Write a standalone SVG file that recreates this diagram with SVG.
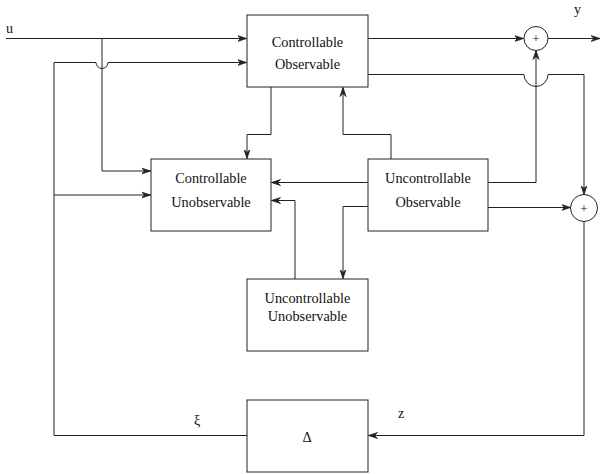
<svg xmlns="http://www.w3.org/2000/svg" width="605" height="474" viewBox="0 0 605 474">
<defs>
<marker id="ar" markerWidth="10" markerHeight="8" refX="9" refY="4" orient="auto" markerUnits="userSpaceOnUse">
<path d="M0,1 L9,4 L0,7 L3,4 z" fill="#222" stroke="#222" stroke-width="0.8"/>
</marker>
</defs>
<style>
.box{fill:#fff;stroke:#222;stroke-width:1}
.ln{fill:none;stroke:#222;stroke-width:1}
.t{font-family:"Liberation Serif","Times New Roman",serif;font-size:14.3px;fill:#111;text-anchor:middle}
.lb{font-family:"Liberation Serif","Times New Roman",serif;font-size:14px;fill:#111}
.pl{font-family:"Liberation Serif","Times New Roman",serif;font-size:13px;fill:#111;text-anchor:middle}
</style>
<rect width="605" height="474" fill="#fff"/>
<g id="connectors">
<path class="ln" d="M6,38.5 H246.5" marker-end="url(#ar)"/>
<path class="ln" d="M102,38.5 V171 H150.5" marker-end="url(#ar)"/>
<path class="ln" d="M247,435.5 H54 V62.5 H96 A6,6 0 0 0 108,62.5 H246.5" marker-end="url(#ar)"/>
<path class="ln" d="M54,195 H150.5" marker-end="url(#ar)"/>
<path class="ln" d="M271,87 V134.5 H247 V158.5" marker-end="url(#ar)"/>
<path class="ln" d="M391,159 V134.5 H343 V87.5" marker-end="url(#ar)"/>
<path class="ln" d="M368,182.5 H271.5" marker-end="url(#ar)"/>
<path class="ln" d="M368,206.5 H343 V278.5" marker-end="url(#ar)"/>
<path class="ln" d="M295,279 V200.5 H271.5" marker-end="url(#ar)"/>
<path class="ln" d="M488,182.5 H536 V50.5" marker-end="url(#ar)"/>
<path class="ln" d="M368,38.5 H523.5" marker-end="url(#ar)"/>
<path class="ln" d="M548,38.5 H600" marker-end="url(#ar)"/>
<path class="ln" d="M368,74.5 H524 A12,12 0 0 0 548,74.5 H584 V194.5" marker-end="url(#ar)"/>
<path class="ln" d="M488,207.5 H570.5" marker-end="url(#ar)"/>
<path class="ln" d="M584,221.5 V435.5 H368.5" marker-end="url(#ar)"/>
</g>
<g id="co">
<rect class="box" x="247" y="15" width="121" height="72"/>
<text class="t" x="307.5" y="46.5">Controllable</text>
<text class="t" x="307.5" y="69">Observable</text>
</g>
<g id="cu">
<rect class="box" x="151" y="159" width="120" height="72"/>
<text class="t" x="211" y="183.3">Controllable</text>
<text class="t" x="211" y="207.3">Unobservable</text>
</g>
<g id="uo">
<rect class="box" x="368" y="159" width="120" height="72"/>
<text class="t" x="428" y="183.3">Uncontrollable</text>
<text class="t" x="428" y="207.3">Observable</text>
</g>
<g id="uu">
<rect class="box" x="247" y="279" width="121" height="72"/>
<text class="t" x="307.5" y="303.3">Uncontrollable</text>
<text class="t" x="307.5" y="321">Unobservable</text>
</g>
<g id="delta">
<rect class="box" x="247" y="400" width="121" height="72"/>
<text class="t" x="307" y="441.5">Δ</text>
</g>
<g id="sum1">
<circle class="box" cx="536" cy="38.5" r="12"/>
<text class="pl" x="536" y="43">+</text>
</g>
<g id="sum2">
<circle class="box" cx="584" cy="208" r="13.5"/>
<text class="pl" x="584" y="212.5">+</text>
</g>
<g id="labels">
<text class="lb" x="6" y="33">u</text>
<text class="lb" x="574" y="14">y</text>
<text class="lb" x="194" y="425">ξ</text>
<text class="lb" x="398" y="417.5">z</text>
</g>
</svg>
